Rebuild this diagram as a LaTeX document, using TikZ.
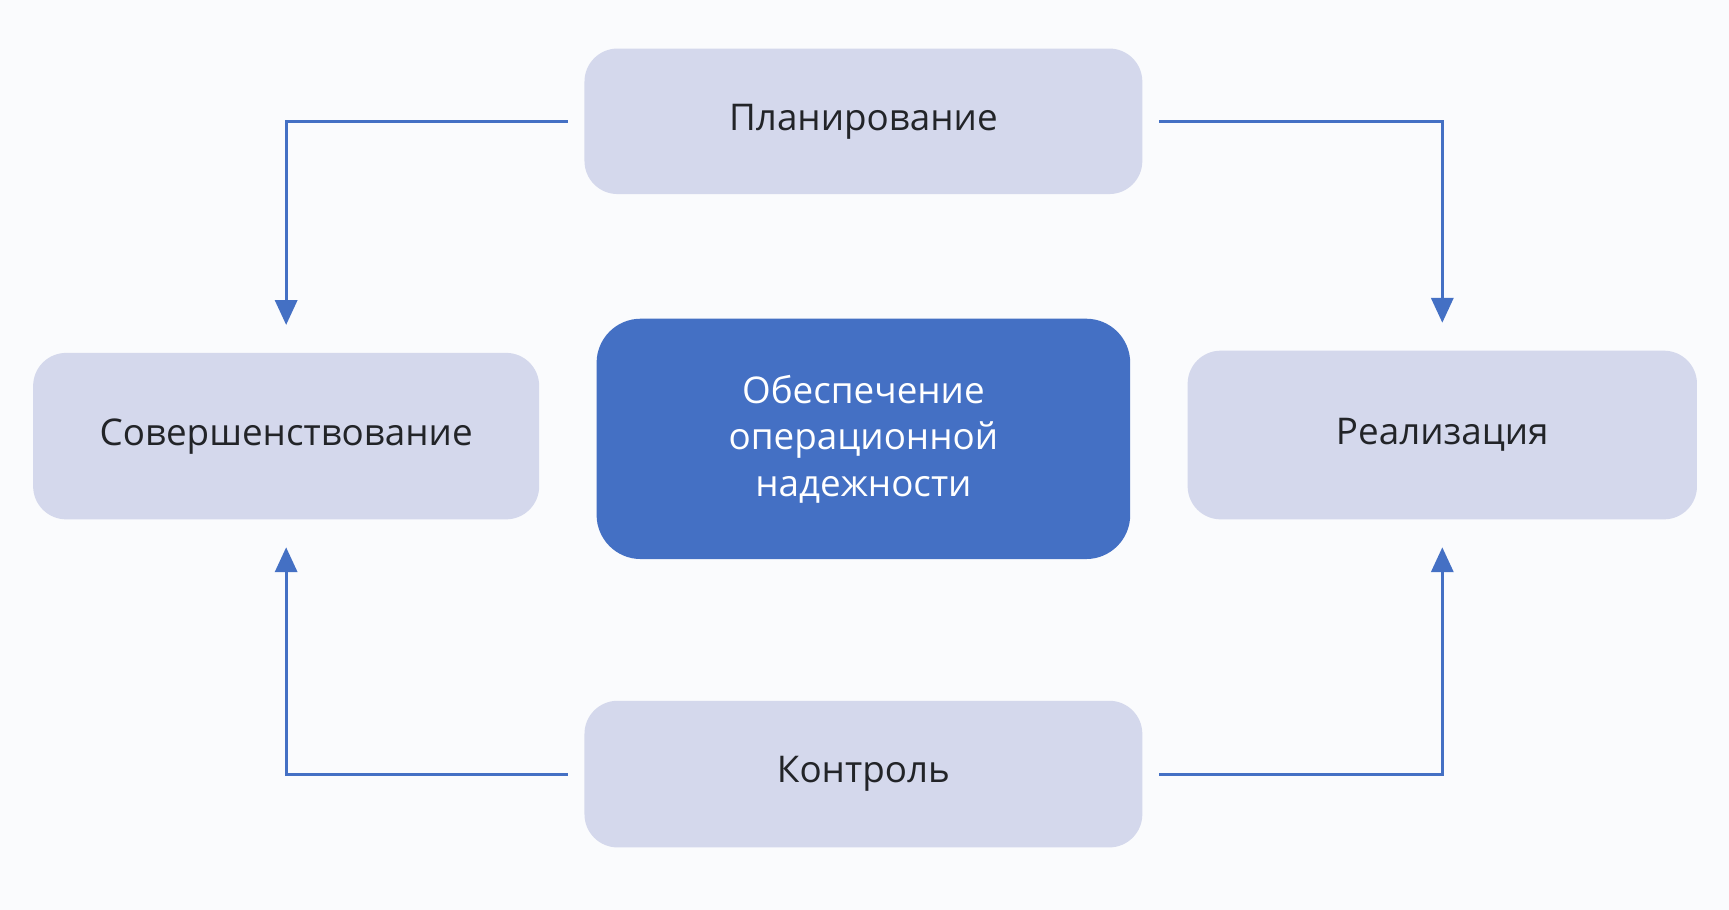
\documentclass[tikz,border=0pt]{standalone}
\usepackage{fontspec}
\setmainfont{Open Sans}
\usetikzlibrary{positioning, arrows.meta}
\definecolor{boxfill}{HTML}{D4D8EC}
\definecolor{mainblue}{HTML}{4470C4}
\definecolor{textdark}{HTML}{222428}
\definecolor{bgcol}{HTML}{FAFBFD}
\begin{document}
\begin{tikzpicture}[x=0.02cm, y=-0.02cm,
    phase/.style={fill=boxfill, rounded corners=0.6cm, text=textdark, font=\fontsize{19}{24}\selectfont, align=center},
    flow/.style={draw=mainblue, line width=1.6pt, -{Triangle[length=4.5mm, width=4mm]}, shorten <=0.3cm, shorten >=0.5cm}]
    \fill[bgcol] (0,0) rectangle (1568,825);
    \useasboundingbox (0,0) rectangle (1568,825);

    \node [phase, minimum width=10.12cm, minimum height=2.64cm] (plan) at (783,110) {Планирование};
    \node [phase, minimum width=9.18cm, minimum height=3.02cm] (improve) at (259.5,395.5) {Совершенствование};
    \node [phase, minimum width=9.24cm, minimum height=3.06cm] (realize) at (1308,394.5) {Реализация};
    \node [phase, minimum width=10.12cm, minimum height=2.66cm] (control) at (783,702) {Контроль};
    \node [phase, fill=mainblue, text=white, minimum width=9.68cm, minimum height=4.36cm, rounded corners=0.8cm] (core) at (783,398)
        {Обеспечение\\операционной\\надежности};

    \draw [flow] (plan.west) -| (improve.north);
    \draw [flow] (plan.east) -| (realize.north);
    \draw [flow] (control.west) -| (improve.south);
    \draw [flow] (control.east) -| (realize.south);
\end{tikzpicture}
\end{document}
